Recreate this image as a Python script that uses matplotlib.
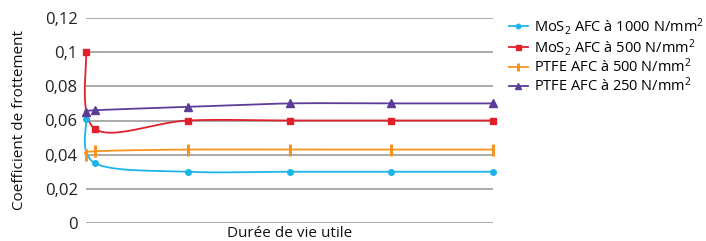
import numpy as np
import matplotlib.pyplot as plt

plt.rcParams['font.family'] = ['Open Sans', 'DejaVu Sans']
plt.rcParams['mathtext.fontset'] = 'custom'
plt.rcParams['mathtext.rm'] = 'Open Sans'
plt.rcParams['mathtext.it'] = 'Open Sans'

# lifetime steps (no ticks shown on the chart)
x = [0, 0.09, 1, 2, 3, 4]
mos2_1000 = [0.061, 0.035, 0.030, 0.030, 0.030, 0.030]
mos2_500 = [0.100, 0.055, 0.060, 0.060, 0.060, 0.060]
ptfe_500 = [0.040, 0.042, 0.043, 0.043, 0.043, 0.043]
ptfe_250 = [0.065, 0.066, 0.068, 0.070, 0.070, 0.070]
labels = ['MoS$_2$ AFC à 1000 N/mm$^2$', 'MoS$_2$ AFC à 500 N/mm$^2$',
          'PTFE AFC à 500 N/mm$^2$', 'PTFE AFC à 250 N/mm$^2$']
yticks = [0, 0.02, 0.04, 0.06, 0.08, 0.1, 0.12]
ytick_labels = ['0', '0,02', '0,04', '0,06', '0,08', '0,1', '0,12']

colors = ['#1cb5ea', '#e2202c', '#f7941d', '#5c3c98']
markers = ['o', 's', '|', '^']
msizes = [4, 4.5, 8, 5.5]


def smooth(xs, ys, sx, sy, n=40):
    # bezier smoothing like the spreadsheet "smoothed line", done in pixel space
    p = np.column_stack([np.asarray(xs) * sx, np.asarray(ys) * sy])
    out = []
    for i in range(len(p) - 1):
        p0 = p[max(i - 1, 0)]
        p1, p2 = p[i], p[i + 1]
        p3 = p[min(i + 2, len(p) - 1)]
        c1 = p1 + (p2 - p0) / 6
        c2 = p2 - (p3 - p1) / 6
        t = np.linspace(0, 1, n)[:, None]
        seg = ((1 - t) ** 3) * p1 + 3 * ((1 - t) ** 2) * t * c1 + 3 * (1 - t) * t ** 2 * c2 + t ** 3 * p2
        out.append(seg)
    out = np.vstack(out)
    return out[:, 0] / sx, out[:, 1] / sy


fig = plt.figure(figsize=(7.06, 2.41), dpi=100)
ax = fig.add_axes([86 / 706, 0.0747, 407 / 706, 0.8506])
ax.set_xlim(0, 4)
ax.set_ylim(0, 0.12)
sx = 407 / 4
sy = 205 / 0.12

for ys, c, m, ms, lab in zip([mos2_1000, mos2_500, ptfe_500, ptfe_250], colors, markers, msizes, labels):
    xx, yy = smooth(x, ys, sx, sy)
    ax.plot(xx, yy, color=c, lw=1.3, clip_on=False, zorder=3)
    mew = 2.2 if m == '|' else 1
    ax.plot(x, ys, ls='none', marker=m, ms=ms, color=c, mew=mew, clip_on=False, zorder=4)
    ax.plot([], [], color=c, lw=1.3, marker=m, ms=ms * 0.8, mew=mew, label=lab)

ax.set_yticks(yticks)
ax.set_yticklabels(ytick_labels, fontsize=12, color='#222222')
ax.set_xticks([])
ax.tick_params(axis='y', length=0, pad=6)
ax.grid(axis='y', color='#aaaaaa', lw=1.4)
ax.set_axisbelow(True)
for s in ax.spines.values():
    s.set_visible(False)

ax.set_xlabel('Durée de vie utile', fontsize=11, color='#111111', labelpad=2)
fig.text(20 / 706, 0.5, 'Coefficient de frottement', rotation=90, fontsize=11,
         color='#111111', ha='center', va='center')

fig.legend(loc='upper left', bbox_to_anchor=(503 / 706, 1 - 10 / 241), frameon=False,
           fontsize=10.5, handlelength=1.3, handletextpad=0.4, labelspacing=0.0,
           borderaxespad=0)

fig.savefig('out.png', dpi=100)
